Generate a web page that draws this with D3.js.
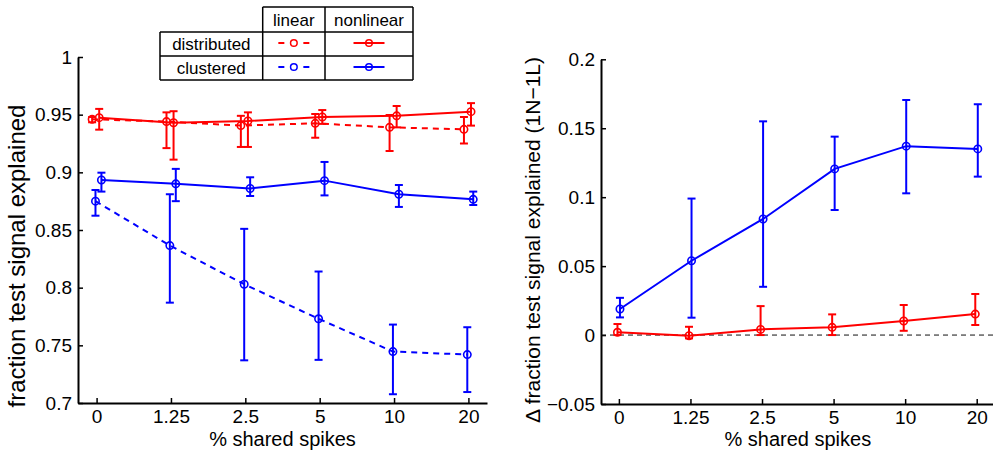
<!DOCTYPE html>
<html>
<head>
<meta charset="utf-8">
<script src="https://cdn.jsdelivr.net/npm/d3@7"></script>
<style>
    body { margin: 0; background: white; }
    text { font-family: "Liberation Sans", Arial, Helvetica, sans-serif; fill: black; }
</style>
</head>
<body>
<script>
// x categories (% shared spikes)
const categories = ["0", "1.25", "2.5", "5", "10", "20"];

// left panel: fraction test signal explained
const distLinear   = [0.946, 0.944, 0.9405, 0.9425, 0.939, 0.9373];
const distLinearHi = [0.948, 0.952, 0.949, 0.9506, 0.9497, 0.948];
const distLinearLo = [0.9434, 0.921, 0.922, 0.930, 0.9185, 0.925];

const distNonlin   = [0.9474, 0.943, 0.9445, 0.948, 0.949, 0.9526];
const distNonlinHi = [0.955, 0.953, 0.952, 0.954, 0.9575, 0.960];
const distNonlinLo = [0.937, 0.911, 0.922, 0.942, 0.939, 0.9405];

const clustLinear   = [0.875, 0.8365, 0.803, 0.773, 0.7446, 0.742];
const clustLinearHi = [0.8847, 0.881, 0.851, 0.814, 0.768, 0.7657];
const clustLinearLo = [0.8624, 0.787, 0.737, 0.7374, 0.7076, 0.7095];

const clustNonlin   = [0.8934, 0.890, 0.886, 0.8928, 0.881, 0.8766];
const clustNonlinHi = [0.8997, 0.903, 0.8957, 0.909, 0.889, 0.8833];
const clustNonlinLo = [0.8833, 0.875, 0.8795, 0.880, 0.870, 0.8717];

// right panel: difference nonlinear - linear
const deltaDist   = [0.002, -0.0005, 0.0041, 0.0056, 0.0102, 0.0152];
const deltaDistHi = [0.008, 0.006, 0.021, 0.015, 0.0218, 0.0298];
const deltaDistLo = [0.0, -0.0024, 0.0, 0.0, 0.0031, 0.0073];

const deltaClust   = [0.0189, 0.0539, 0.0842, 0.1205, 0.137, 0.135];
const deltaClustHi = [0.027, 0.099, 0.155, 0.1439, 0.1705, 0.1674];
const deltaClustLo = [0.0128, 0.0126, 0.035, 0.0907, 0.1028, 0.1149];

// tick labels
const leftTicks  = [0.7, 0.75, 0.8, 0.85, 0.9, 0.95, 1];
const leftTickLabels = ["0.7", "0.75", "0.8", "0.85", "0.9", "0.95", "1"];
const rightTicks = [-0.05, 0, 0.05, 0.1, 0.15, 0.2];
const rightTickLabels = ["\u22120.05", "0", "0.05", "0.1", "0.15", "0.2"];

const legendCols = ["linear", "nonlinear"];
const legendRows = ["distributed", "clustered"];

const RED = "#ff0000", BLUE = "#0000ff";

const svg = d3.select("body").append("svg")
    .attr("width", 993)
    .attr("height", 452);

function drawPanel(opt) {
    const x = d3.scaleLinear().domain([0.75, 6.25]).range(opt.xr);
    const y = d3.scaleLinear().domain(opt.yDomain).range(opt.yr);
    const g = svg.append("g");

    // x axis, ticks pointing inward
    const xAxis = d3.axisBottom(x)
        .tickValues(d3.range(1, 7))
        .tickFormat((d, i) => categories[i])
        .tickSizeInner(-5).tickSizeOuter(0).tickPadding(7);
    const gx = g.append("g").attr("transform", `translate(0,${opt.yr[0]})`).call(xAxis);

    const yAxis = d3.axisLeft(y)
        .tickValues(opt.ticks)
        .tickFormat((d, i) => opt.tickLabels[i])
        .tickSizeInner(-5).tickSizeOuter(0).tickPadding(6);
    const gy = g.append("g").attr("transform", `translate(${opt.xr[0]},0)`).call(yAxis);

    [gx, gy].forEach(a => {
        a.select(".domain").attr("stroke", "black").attr("stroke-width", 2);
        a.selectAll(".tick line").attr("stroke", "black").attr("stroke-width", 1.5);
        a.selectAll(".tick text").style("font-size", "19px")
            .style("font-family", "'Liberation Sans', Arial, sans-serif");
    });
    gx.selectAll(".tick text").attr("dy", "0.71em");

    g.append("text")
        .attr("x", (opt.xr[0] + opt.xr[1]) / 2)
        .attr("y", 446)
        .attr("text-anchor", "middle")
        .style("font-size", "20px")
        .text("% shared spikes");

    g.append("text")
        .attr("transform", `translate(${opt.ylabX},${opt.ylabY}) rotate(-90)`)
        .attr("text-anchor", "middle")
        .style("font-size", opt.ylabSize + "px")
        .text(opt.ylabel);

    return {g, x, y};
}

function drawSeries(p, vals, lo, hi, off, color, dashed) {
    const pts = vals.map((v, i) => ({x: p.x(i + 1 + off), y: p.y(v), lo: p.y(lo[i]), hi: p.y(hi[i])}));
    const s = p.g.append("g");

    s.append("path")
        .datum(pts)
        .attr("d", d3.line().x(d => d.x).y(d => d.y))
        .attr("fill", "none")
        .attr("stroke", color)
        .attr("stroke-width", 2)
        .attr("stroke-dasharray", dashed ? "6,5" : null);

    s.selectAll("line.err").data(pts).enter().append("line")
        .attr("x1", d => d.x).attr("x2", d => d.x)
        .attr("y1", d => d.lo).attr("y2", d => d.hi)
        .attr("stroke", color).attr("stroke-width", 2);
    ["lo", "hi"].forEach(k => {
        s.selectAll("line.cap" + k).data(pts).enter().append("line")
            .attr("x1", d => d.x - 4).attr("x2", d => d.x + 4)
            .attr("y1", d => d[k]).attr("y2", d => d[k])
            .attr("stroke", color).attr("stroke-width", 2);
    });

    s.selectAll("circle").data(pts).enter().append("circle")
        .attr("cx", d => d.x).attr("cy", d => d.y).attr("r", 3.7)
        .attr("fill", "none").attr("stroke", color).attr("stroke-width", 1.6);
}

// left panel
const left = drawPanel({
    xr: [78, 487], yr: [403, 57], yDomain: [0.7, 1],
    ticks: leftTicks, tickLabels: leftTickLabels,
    ylabel: "fraction test signal explained", ylabX: 25, ylabY: 256, ylabSize: 24
});
drawSeries(left, distLinear, distLinearLo, distLinearHi, -0.06, RED, true);
drawSeries(left, distNonlin, distNonlinLo, distNonlinHi, 0.035, RED, false);
drawSeries(left, clustLinear, clustLinearLo, clustLinearHi, -0.015, BLUE, true);
drawSeries(left, clustNonlin, clustNonlinLo, clustNonlinHi, 0.065, BLUE, false);

// right panel
const right = drawPanel({
    xr: [601, 994.6], yr: [404, 59.3], yDomain: [-0.05, 0.2],
    ticks: rightTicks, tickLabels: rightTickLabels,
    ylabel: "\u0394 fraction test signal explained (1N\u22121L)", ylabX: 540, ylabY: 240, ylabSize: 21
});
right.g.append("line")
    .attr("x1", right.x(0.75)).attr("x2", 993)
    .attr("y1", right.y(0)).attr("y2", right.y(0))
    .attr("stroke", "#111").attr("stroke-width", 1)
    .attr("stroke-dasharray", "5,4");
drawSeries(right, deltaDist, deltaDistLo, deltaDistHi, -0.02, RED, false);
drawSeries(right, deltaClust, deltaClustLo, deltaClustHi, 0.015, BLUE, false);

// legend table
const leg = svg.append("g");
const colX = [160, 262.7, 325, 413];
const rowY = [7, 32, 56, 80];
const border = (x1, y1, x2, y2) => leg.append("line")
    .attr("x1", x1).attr("y1", y1).attr("x2", x2).attr("y2", y2)
    .attr("stroke", "black").attr("stroke-width", 1.5);
border(colX[1], rowY[0], colX[3], rowY[0]);
rowY.slice(1).forEach(yy => border(colX[0], yy, colX[3], yy));
border(colX[0], rowY[1], colX[0], rowY[3]);
colX.slice(1).forEach(xx => border(xx, rowY[0], xx, rowY[3]));

legendCols.forEach((c, i) => {
    leg.append("text")
        .attr("x", (colX[i + 1] + colX[i + 2]) / 2).attr("y", 26)
        .attr("text-anchor", "middle").style("font-size", "17px").text(c);
});
legendRows.forEach((r, j) => {
    const cy = rowY[j + 1] + 11;
    leg.append("text")
        .attr("x", (colX[0] + colX[1]) / 2).attr("y", rowY[j + 1] + 18)
        .attr("text-anchor", "middle").style("font-size", "17px").text(r);
    const color = j === 0 ? RED : BLUE;
    legendCols.forEach((c, i) => {
        const cx = (colX[i + 1] + colX[i + 2]) / 2;
        leg.append("line")
            .attr("x1", cx - 15.5).attr("x2", cx + 15.5)
            .attr("y1", cy).attr("y2", cy)
            .attr("stroke", color).attr("stroke-width", 2)
            .attr("stroke-dasharray", i === 0 ? "6,19,6" : null);
        leg.append("circle")
            .attr("cx", cx).attr("cy", cy).attr("r", 3.3)
            .attr("fill", "none").attr("stroke", color).attr("stroke-width", 1.5);
    });
});
</script>
</body>
</html>
